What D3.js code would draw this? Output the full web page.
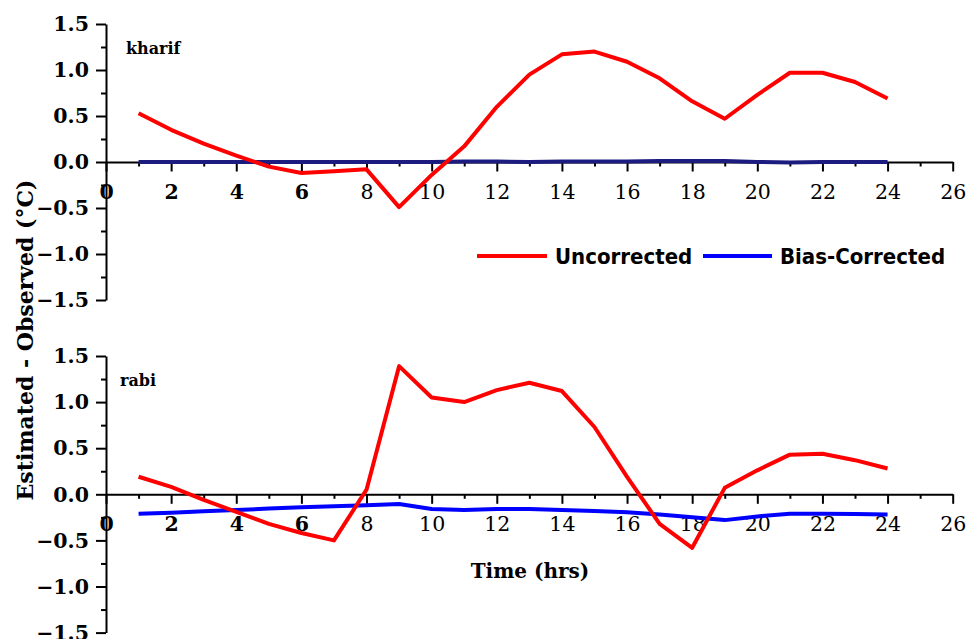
<!DOCTYPE html>
<html>
<head>
<meta charset="utf-8">
<script src="https://cdn.jsdelivr.net/npm/d3@7"></script>
<style>
    body { margin: 0; background: #fff; }
    svg { display: block; }
</style>
</head>
<body>
<div id="svg_container"></div>
<script>
// hours 1..24
var hours = d3.range(1, 25);

var kharifUncorrected = [0.53, 0.35, 0.20, 0.07, -0.05, -0.12, -0.10, -0.08, -0.49, -0.14, 0.17, 0.60,
    0.95, 1.17, 1.20, 1.09, 0.91, 0.66, 0.47, 0.73, 0.97, 0.97, 0.87, 0.69];
var kharifCorrected = [0.00, 0.00, 0.00, 0.00, 0.00, 0.00, 0.00, 0.00, 0.00, 0.00, 0.005, 0.005,
    0.00, 0.005, 0.005, 0.005, 0.01, 0.01, 0.01, 0.00, -0.005, 0.00, 0.00, 0.00];

var rabiUncorrected = [0.19, 0.08, -0.06, -0.19, -0.32, -0.42, -0.50, 0.05, 1.39, 1.05, 1.00, 1.13,
    1.21, 1.12, 0.73, 0.19, -0.32, -0.58, 0.07, 0.26, 0.43, 0.44, 0.37, 0.28];
var rabiCorrected = [-0.21, -0.20, -0.185, -0.17, -0.155, -0.14, -0.13, -0.12, -0.105, -0.16, -0.17, -0.16,
    -0.16, -0.17, -0.18, -0.195, -0.22, -0.25, -0.28, -0.24, -0.21, -0.21, -0.215, -0.22];

var xMajorTicks = d3.range(0, 27, 2);
var xMinorTicks = d3.range(1, 26, 2);
var yMajorTicks = [-1.5, -1.0, -0.5, 0.0, 0.5, 1.0, 1.5];
var yMinorTicks = [-1.25, -0.75, -0.25, 0.25, 0.75, 1.25];

var seriesNames = ["Uncorrected", "Bias-Corrected"];
var seriesColors = ["#ff0000", "#0000ff"];

var width = 968, height = 639;
var serif = "'DejaVu Serif', serif";

var svg = d3.select("#svg_container")
        .append("svg")
        .attr("width", width)
        .attr("height", height);

var x = d3.scaleLinear().domain([0, 26]).range([106, 952.7]);

function drawPanel(top, bottom, label, uncorrected, corrected, blueColor) {
    var y = d3.scaleLinear().domain([-1.5, 1.5]).range([bottom, top]);
    var g = svg.append("g");
    var y0 = y(0);

    // minor ticks
    g.append("g")
            .attr("transform", "translate(0," + y0 + ")")
            .call(d3.axisBottom(x).tickValues(xMinorTicks).tickSize(4.5).tickSizeOuter(0).tickFormat(""))
            .call(function (a) { a.select(".domain").remove(); })
            .selectAll("line").attr("stroke-width", 2);
    g.append("g")
            .attr("transform", "translate(" + x(0) + ",0)")
            .call(d3.axisLeft(y).tickValues(yMinorTicks).tickSize(5).tickSizeOuter(0).tickFormat(""))
            .call(function (a) { a.select(".domain").remove(); })
            .selectAll("line").attr("stroke-width", 2);

    // x axis
    var xa = g.append("g")
            .attr("transform", "translate(0," + y0 + ")")
            .call(d3.axisBottom(x).tickValues(xMajorTicks).tickSize(9.5).tickSizeOuter(0).tickFormat(d3.format("d")));
    xa.select(".domain").attr("stroke-width", 2);
    xa.selectAll("line").attr("stroke-width", 2);
    xa.selectAll("text")
            .attr("y", 36.5)
            .attr("dy", 0)
            .attr("font-family", serif)
            .attr("font-size", 20.5)
            .attr("font-weight", function (d) { return d <= 6 ? "bold" : "normal"; })
            .attr("fill", "#000");

    // y axis
    var ya = g.append("g")
            .attr("transform", "translate(" + x(0) + ",0)")
            .call(d3.axisLeft(y).tickValues(yMajorTicks).tickSize(10).tickSizeOuter(0).tickFormat(d3.format(".1f")));
    ya.select(".domain").attr("stroke-width", 2);
    ya.selectAll("line").attr("stroke-width", 2);
    ya.selectAll("text")
            .attr("x", -17)
            .attr("dy", "0.33em")
            .attr("font-family", serif)
            .attr("font-size", 20.5)
            .attr("font-weight", "bold")
            .attr("fill", "#000");

    var line = d3.line()
            .x(function (d, i) { return x(hours[i]); })
            .y(function (d) { return y(d); });

    g.append("path")
            .datum(corrected)
            .attr("fill", "none")
            .attr("stroke", blueColor)
            .attr("stroke-width", 4)
            .attr("stroke-linejoin", "round")
            .attr("d", line);
    g.append("path")
            .datum(uncorrected)
            .attr("fill", "none")
            .attr("stroke", seriesColors[0])
            .attr("stroke-width", 4)
            .attr("stroke-linejoin", "round")
            .attr("d", line);

    g.append("text")
            .attr("x", label === "kharif" ? 126 : 120)
            .attr("y", top + 30)
            .attr("font-family", serif)
            .attr("font-size", 16)
            .attr("font-weight", "bold")
            .text(label);
}

drawPanel(24, 300, "kharif", kharifUncorrected, kharifCorrected, "#1c1c80");
drawPanel(356, 632.6, "rabi", rabiUncorrected, rabiCorrected, seriesColors[1]);

// axis titles
svg.append("text")
        .attr("text-anchor", "middle")
        .attr("transform", "translate(33,340)rotate(-90)")
        .attr("font-family", serif)
        .attr("font-size", 22)
        .attr("font-weight", "bold")
        .text("Estimated - Observed (°C)");

svg.append("text")
        .attr("text-anchor", "middle")
        .attr("x", 530)
        .attr("y", 578)
        .attr("font-family", serif)
        .attr("font-size", 20)
        .attr("font-weight", "bold")
        .text("Time (hrs)");

// legend
var legendItems = [
    {x1: 477, x2: 547, tx: 555},
    {x1: 703, x2: 772, tx: 780}
];
var legend = svg.append("g");
legendItems.forEach(function (it, i) {
    legend.append("line")
            .attr("x1", it.x1).attr("x2", it.x2)
            .attr("y1", 256).attr("y2", 256)
            .attr("stroke", seriesColors[i])
            .attr("stroke-width", 4);
    legend.append("text")
            .attr("x", it.tx)
            .attr("y", 264)
            .attr("font-family", "'DejaVu Sans Condensed', 'DejaVu Sans', sans-serif")
            .attr("font-stretch", "condensed")
            .attr("font-size", 22)
            .attr("font-weight", "bold")
            .text(seriesNames[i]);
});
</script>
</body>
</html>
